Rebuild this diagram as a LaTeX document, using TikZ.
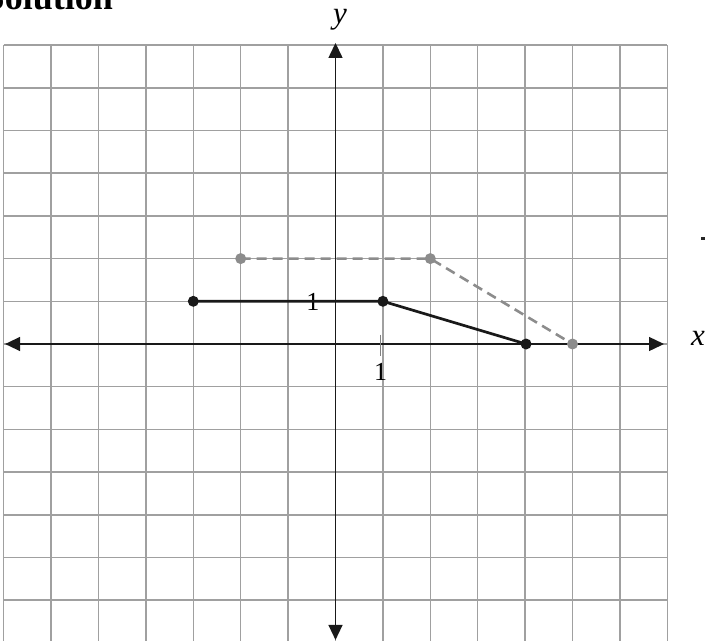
\documentclass[tikz,border=0pt]{standalone}
\usepackage{fontspec}
\setmainfont{Liberation Serif}
\usetikzlibrary{arrows.meta}
\definecolor{gridgray}{HTML}{A0A0A0}
\definecolor{ptgray}{HTML}{8C8C8C}
\tikzset{
  gridline/.style={draw=gridgray, line width=1.5pt},
  axisline/.style={draw=black!90, line width=1.4pt, -{Triangle[length=15pt,width=14pt]}},
  solidpath/.style={draw=black!90, line width=2.7pt},
  dashpath/.style={draw=ptgray, line width=2.6pt, dash pattern=on 10pt off 6pt},
  bdot/.style={fill=black!90},
  gdot/.style={fill=ptgray},
  numlabel/.style={font=\fontsize{26}{26}\selectfont, inner sep=0pt},
  axlabel/.style={font=\fontsize{31}{31}\selectfont\itshape, inner sep=0pt},
}
\begin{document}
\begin{tikzpicture}[x=47.4pt, y=42.7pt]
\useasboundingbox (-7.078,-6.955) rectangle (7.816,8.056);
\clip (-7.078,-6.955) rectangle (7.816,8.056);
% grid
\foreach \i in {-7,...,7} \draw[gridline] (\i,-7) -- (\i,7);
\foreach \j in {-7,...,7} \draw[gridline] (-7,\j) -- (7,\j);
% white gap on x=1 line near tick
\fill[white] (0.9,0.1) rectangle (0.98,0.9);
% axes
\coordinate (xl) at (-6.97,0);
\coordinate (xr) at (6.93,0);
\coordinate (yb) at (0,-6.93);
\coordinate (yt) at (0,7.05);
\coordinate (o) at (0,0);
\draw[axisline] (o) -- (xr);
\draw[axisline] (o) -- (xl);
\draw[axisline] (o) -- (yt);
\draw[axisline] (o) -- (yb);
% tick and labels
\coordinate (tk1) at (0.95,0.22);
\coordinate (tk2) at (0.95,-0.28);
\draw[gray, line width=1.2pt] (tk1) -- (tk2);
\node[numlabel] (lx) at (0.95,-0.66) {1};
\node[numlabel] (ly) at (-0.48,0.99) {1};
\node[axlabel, anchor=center] (ylab) at (0.095,7.59) {y};
\node[axlabel, anchor=center] (xlab) at (7.648,0.14) {x};
% title (cut off)
\node[font=\fontsize{36}{36}\selectfont\bfseries, anchor=base east, inner sep=0pt] (title) at (-4.694,7.822) {Solution};
% small mark at right edge
\fill[black!85] (7.72,2.425) rectangle (7.80,2.495);
% vertices
\coordinate (A) at (-3,1);
\coordinate (B) at (1,1);
\coordinate (C) at (4.02,0);
\coordinate (D) at (-2,2);
\coordinate (E) at (2,2);
\coordinate (F) at (5,0);
\draw[dashpath] (D) -- (E) -- (F);
\draw[solidpath] (A) -- (B) -- (C);
\foreach \p in {D,E,F} \fill[gdot] (\p) circle (5.5pt);
\foreach \p in {A,B,C} \fill[bdot] (\p) circle (5.5pt);
\end{tikzpicture}
\end{document}
